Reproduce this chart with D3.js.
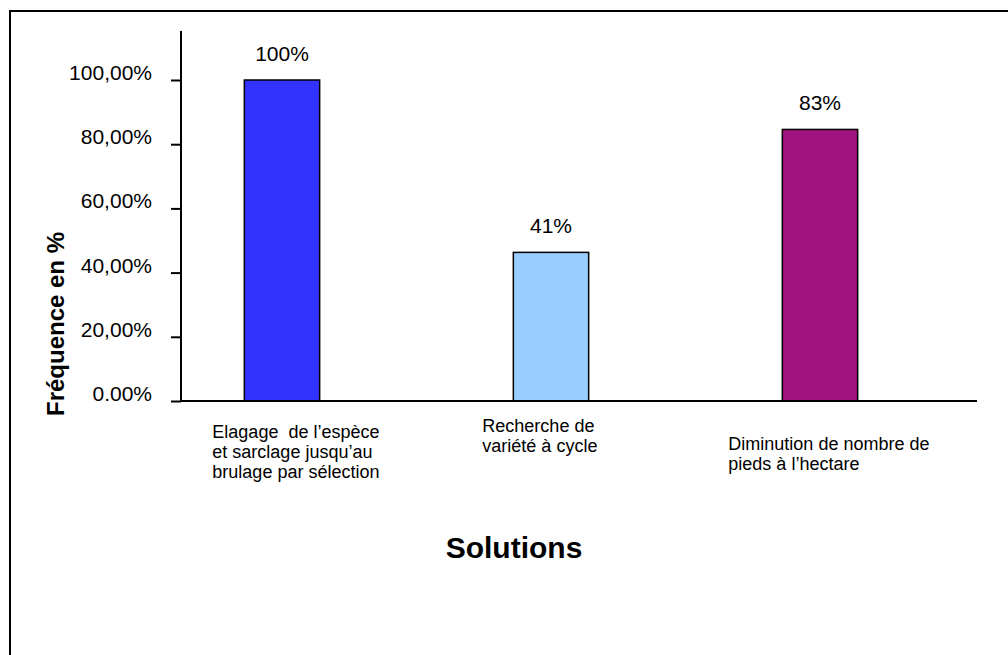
<!DOCTYPE html>
<html>
<head>
<meta charset="utf-8">
<script src="https://d3js.org/d3.v7.min.js"></script>
<style>
body { margin: 0; background: #fff; }
text { font-family: Arial, "Liberation Sans", sans-serif; fill: #000; }
</style>
</head>
<body>
<script>
//wrap everything in a self-executing anonymous function
(function(){

//chart data
var categories = ["c1", "c2", "c3"];
var categoryLines = [
	["Elagage  de l\u2019esp\u00e8ce", "et sarclage jusqu\u2019au", "brulage par s\u00e9lection"],
	["Recherche de", "vari\u00e9t\u00e9 \u00e0 cycle"],
	["Diminution de nombre de", "pieds \u00e0 l\u2019hectare"]
];
var values = [100, 46.3, 84.6];
var valueLabels = ["100%", "41%", "83%"];
var tickValues = [0, 20, 40, 60, 80, 100];
var tickLabels = ["0.00%", "20,00%", "40,00%", "60,00%", "80,00%", "100,00%"];
var barColors = ["#3333ff", "#99ccff", "#a0127e"];

//label placement relative to each bar (dx from bar left, baseline of first line)
var labelLayout = [
	{dx: -32, y: 438},
	{dx: -31, y: 432},
	{dx: -54, y: 450}
];

var width = 1008,
	height = 655;

var svg = d3.select("body")
	.append("svg")
	.attr("width", width)
	.attr("height", height);

//outer frame
svg.append("rect")
	.attr("x", 10)
	.attr("y", 11)
	.attr("width", 1010)
	.attr("height", 660)
	.attr("fill", "none")
	.attr("stroke", "#000")
	.attr("stroke-width", 2);

//scales
var yScale = d3.scaleLinear()
	.domain([0, 100])
	.range([401, 80]);

var xScale = d3.scaleBand()
	.domain(categories)
	.range([147.5, 954.5])
	.paddingInner(0.72)
	.paddingOuter(0.36);

//bars
svg.selectAll(".bar")
	.data(values)
	.enter()
	.append("rect")
	.attr("class", "bar")
	.attr("x", function(d, i){ return xScale(categories[i]); })
	.attr("width", xScale.bandwidth())
	.attr("y", function(d){ return yScale(d); })
	.attr("height", function(d){ return yScale(0) - yScale(d); })
	.attr("fill", function(d, i){ return barColors[i]; })
	.attr("stroke", "#000")
	.attr("stroke-width", 1.5);

//value labels above bars
svg.selectAll(".valueLabel")
	.data(values)
	.enter()
	.append("text")
	.attr("class", "valueLabel")
	.attr("x", function(d, i){ return xScale(categories[i]) + xScale.bandwidth() / 2; })
	.attr("y", function(d){ return yScale(d) - 19; })
	.attr("text-anchor", "middle")
	.style("font-size", "21px")
	.text(function(d, i){ return valueLabels[i]; });

//vertical axis
var yAxis = d3.axisLeft(yScale)
	.tickValues(tickValues)
	.tickSize(10)
	.tickPadding(19)
	.tickFormat(function(d, i){ return tickLabels[i]; });

var axis = svg.append("g")
	.attr("transform", "translate(181,0)")
	.call(yAxis);

axis.select(".domain").remove();
axis.selectAll(".tick line")
	.attr("stroke", "#000")
	.attr("stroke-width", 2);
axis.selectAll(".tick text")
	.attr("dy", "-0.02em")
	.style("font-family", "Arial, 'Liberation Sans', sans-serif")
	.style("font-size", "21px");

//axis lines
svg.append("line")
	.attr("x1", 181).attr("x2", 181)
	.attr("y1", 31).attr("y2", yScale(0) + 1)
	.attr("stroke", "#000")
	.attr("stroke-width", 2);

svg.append("line")
	.attr("x1", 180).attr("x2", 977)
	.attr("y1", yScale(0)).attr("y2", yScale(0))
	.attr("stroke", "#000")
	.attr("stroke-width", 2);

//category labels
var catLabels = svg.selectAll(".catLabel")
	.data(categoryLines)
	.enter()
	.append("text")
	.attr("class", "catLabel")
	.style("font-size", "18px")
	.attr("transform", function(d, i){
		return "translate(" + (xScale(categories[i]) + labelLayout[i].dx) + "," + labelLayout[i].y + ")";
	});

catLabels.selectAll("tspan")
	.data(function(d){ return d; })
	.enter()
	.append("tspan")
	.attr("x", 0)
	.attr("y", function(d, j){ return j * 20; })
	.style("white-space", "pre")
	.text(function(d){ return d; });

//axis titles
svg.append("text")
	.attr("transform", "translate(64,324) rotate(-90)")
	.attr("text-anchor", "middle")
	.style("font-size", "24px")
	.style("font-weight", "bold")
	.text("Fr\u00e9quence en %");

svg.append("text")
	.attr("x", 514)
	.attr("y", 558)
	.attr("text-anchor", "middle")
	.style("font-size", "30px")
	.style("font-weight", "bold")
	.text("Solutions");

})();
</script>
</body>
</html>
